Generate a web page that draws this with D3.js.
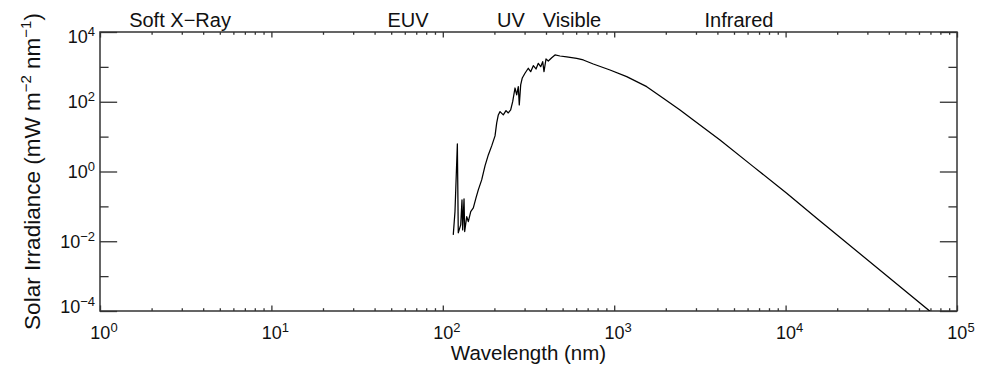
<!DOCTYPE html>
<html>
<head>
<meta charset="utf-8">
<script src="https://cdn.jsdelivr.net/npm/d3@7"></script>
<style>
  body { margin: 0; background: #fff; }
  text { font-family: "Liberation Sans", Arial, Helvetica, sans-serif; fill: #111; }
</style>
</head>
<body>
<div id="wrapper"></div>
<script>
// spectrum: wavelength in nm, irradiance in mW m-2 nm-1
const wavelength = [115.1, 117.8, 121.6, 123.1, 127.2, 129.4, 130.6, 133.0, 134.2, 137.9,
  140.9, 145.5, 150.7, 156.2, 161.1, 168.6, 176.3, 184.3, 192.9, 201.7,
  206.3, 210.8, 215.7, 225.4, 233.7, 241.0, 248.9, 255.7, 263.8, 269.9,
  275.7, 279.4, 284.7, 290.9, 301.6, 315.3, 325.6, 337.3, 349.8, 360.7,
  372.5, 382.7, 389.4, 400.0, 412.6, 432.0, 451.4, 482.8, 528.3, 604.2,
  660.2, 755.2, 945.2, 1183, 1548, 1934, 2421, 2894, 4143, 6480,
  10150, 15190, 69570]
const irradiance = [0.0152, 0.071, 6.18, 0.0174, 0.0295, 0.153, 0.0212, 0.164, 0.019, 0.051,
  0.0367, 0.071, 0.0906, 0.175, 0.297, 0.574, 1.45, 2.99, 5.42, 10.5,
  24.7, 41.9, 52.0, 41.9, 55.6, 47.7, 58.2, 100.7, 248, 157,
  271, 80.9, 303, 481, 656, 912, 728, 1082, 871, 1268,
  1013, 1409, 728, 1684, 1476, 1835, 2193, 2051, 1921, 1763,
  1577, 1211, 815, 524, 271, 126, 58.2, 30.1, 8.04, 1.38,
  0.239, 0.0459, 0.000098]

// band names along the top and the wavelength each one is centred on
const bands = ["Soft X\u2212Ray", "EUV", "UV", "Visible", "Infrared"]
const bandCenters = [2.93, 62.7, 250, 567, 5350]

const xTicks = [1, 10, 100, 1000, 1e4, 1e5]
const yTicks = [1e-4, 1e-2, 1, 1e2, 1e4]
const yMinorTicks = [1e-3, 1e-1, 10, 1e3]

const dimensions = { width: 986, height: 366,
  margin: { top: 32, right: 29, bottom: 55, left: 100 } }
const plotLeft = dimensions.margin.left
const plotRight = dimensions.width - dimensions.margin.right
const plotTop = dimensions.margin.top
const plotBottom = dimensions.height - dimensions.margin.bottom
const axisColor = "#333"

const x = d3.scaleLog().domain([1, 1e5]).range([plotLeft, plotRight])
const y = d3.scaleLog().domain([1e-4, 1e4]).range([plotBottom, plotTop])

const svg = d3.select("#wrapper")
  .append("svg")
    .attr("width", dimensions.width)
    .attr("height", dimensions.height)

svg.append("clipPath").attr("id", "plotClip")
  .append("rect")
    .attr("x", plotLeft).attr("y", plotTop)
    .attr("width", plotRight - plotLeft).attr("height", plotBottom - plotTop)

// tick lengths like IDL: a fraction of the other axis
const xMajorLen = 0.02 * (plotBottom - plotTop)
const yMajorLen = 0.02 * (plotRight - plotLeft)
const xMinor = x.ticks().filter(d => !xTicks.includes(d))

function tickAxis(axis, transform) {
  const g = svg.append("g").attr("transform", transform).call(axis)
  g.select(".domain").remove()
  g.selectAll("line").attr("stroke", axisColor).attr("stroke-width", 1.3)
  g.selectAll("text").remove()
}
tickAxis(d3.axisBottom(x).tickValues(xTicks).tickSize(-xMajorLen), `translate(0,${plotBottom})`)
tickAxis(d3.axisBottom(x).tickValues(xMinor).tickSize(-xMajorLen / 2), `translate(0,${plotBottom})`)
tickAxis(d3.axisTop(x).tickValues(xTicks).tickSize(-xMajorLen), `translate(0,${plotTop})`)
tickAxis(d3.axisTop(x).tickValues(xMinor).tickSize(-xMajorLen / 2), `translate(0,${plotTop})`)
tickAxis(d3.axisLeft(y).tickValues(yTicks).tickSize(-yMajorLen), `translate(${plotLeft},0)`)
tickAxis(d3.axisLeft(y).tickValues(yMinorTicks).tickSize(-yMajorLen / 2), `translate(${plotLeft},0)`)
tickAxis(d3.axisRight(y).tickValues(yTicks).tickSize(-yMajorLen), `translate(${plotRight},0)`)
tickAxis(d3.axisRight(y).tickValues(yMinorTicks).tickSize(-yMajorLen / 2), `translate(${plotRight},0)`)

svg.append("rect")
  .attr("x", plotLeft).attr("y", plotTop)
  .attr("width", plotRight - plotLeft).attr("height", plotBottom - plotTop)
  .attr("fill", "none")
  .attr("stroke", axisColor)
  .attr("stroke-width", 1.5)

const expText = v => String(Math.round(Math.log10(v))).replace("-", "\u2212")

function powerLabel(sel) {
  sel.append("tspan").text("10")
  sel.append("tspan")
    .attr("dy", -7)
    .attr("font-size", 13)
    .text(d => expText(d))
}

svg.append("g").selectAll("text")
  .data(xTicks)
  .join("text")
    .attr("x", d => x(d) + 4)
    .attr("y", plotBottom + 28)
    .attr("text-anchor", "middle")
    .attr("font-size", 18)
    .call(powerLabel)

svg.append("g").selectAll("text")
  .data(yTicks)
  .join("text")
    .attr("x", plotLeft - 5)
    .attr("y", (d, i) => y(d) + 6.5 + (i === 0 ? -5 : i === yTicks.length - 1 ? 4 : 0))
    .attr("text-anchor", "end")
    .attr("font-size", 18)
    .call(powerLabel)

svg.append("g").selectAll("text")
  .data(bands)
  .join("text")
    .attr("x", (d, i) => x(bandCenters[i]))
    .attr("y", plotTop - 5)
    .attr("text-anchor", "middle")
    .attr("font-size", 20)
    .text(d => d)

svg.append("text")
  .attr("x", (plotLeft + plotRight) / 2)
  .attr("y", dimensions.height - 6)
  .attr("text-anchor", "middle")
  .attr("font-size", 20.5)
  .text("Wavelength (nm)")

const yTitle = svg.append("text")
  .attr("transform", `translate(40,${(plotTop + plotBottom) / 2}) rotate(-90)`)
  .attr("text-anchor", "middle")
  .attr("font-size", 22.5)
yTitle.append("tspan").text("Solar Irradiance (mW m")
yTitle.append("tspan").attr("dy", -9).attr("font-size", 15).text("\u22122")
yTitle.append("tspan").attr("dy", 9).text(" nm")
yTitle.append("tspan").attr("dy", -9).attr("font-size", 15).text("\u22121")
yTitle.append("tspan").attr("dy", 9).text(")")

const line = d3.line()
  .x((d, i) => x(wavelength[i]))
  .y(d => y(d))

svg.append("path")
  .datum(irradiance)
  .attr("clip-path", "url(#plotClip)")
  .attr("d", line)
  .attr("fill", "none")
  .attr("stroke", "#000")
  .attr("stroke-width", 1.25)
  .attr("stroke-linejoin", "round")
</script>
</body>
</html>
